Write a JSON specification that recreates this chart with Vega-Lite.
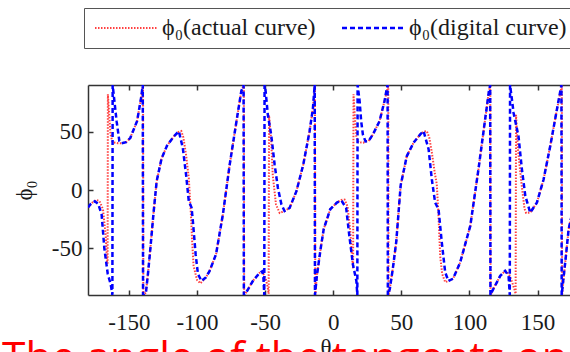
{
  "$schema": "https://vega.github.io/schema/vega-lite/v6.json",
  "width": 482,
  "height": 210,
  "autosize": {"type": "none"},
  "padding": {"left": 88, "top": 85, "right": 0, "bottom": 57},
  "background": "white",
  "config": {
    "font": "Liberation Serif",
    "view": {"stroke": null},
    "axis": {"labelFont": "Liberation Serif", "titleFont": "Liberation Serif"},
    "legend": {
      "symbolType": "M-9,0H53",
      "symbolSize": 4,
      "labelFont": "Liberation Serif",
      "labelFontSize": 24,
      "labelColor": "#1a1a1a",
      "labelOffset": 46,
      "columnPadding": 21,
      "strokeColor": "#555555",
      "fillColor": "#ffffff",
      "padding": 8,
      "labelLimit": 0
    }
  },
  "title": {
    "text": "The angle of the tangents on",
    "orient": "bottom",
    "anchor": "start",
    "frame": "group",
    "font": "Open Sans",
    "fontSize": 42.5,
    "fontWeight": "normal",
    "color": "#ff0000",
    "baseline": "top",
    "dx": -86,
    "dy": -21,
    "offset": 0
  },
  "data": {
    "values": [
      {"curve": "actual", "theta": -180, "phi": -15},
      {"curve": "actual", "theta": -177, "phi": -11},
      {"curve": "actual", "theta": -174, "phi": -8.5},
      {"curve": "actual", "theta": -171.6, "phi": -9.4},
      {"curve": "actual", "theta": -169, "phi": -16.5},
      {"curve": "actual", "theta": -167, "phi": -39},
      {"curve": "actual", "theta": -166, "phi": -62},
      {"curve": "actual", "theta": -165.6, "phi": -63},
      {"curve": "actual", "theta": -165.4, "phi": 82},
      {"curve": "actual", "theta": -164.5, "phi": 66},
      {"curve": "actual", "theta": -163.5, "phi": 48},
      {"curve": "actual", "theta": -162, "phi": 41},
      {"curve": "actual", "theta": -158, "phi": 40},
      {"curve": "actual", "theta": -155.6, "phi": 40},
      {"curve": "actual", "theta": -152, "phi": 41},
      {"curve": "actual", "theta": -149, "phi": 44.5},
      {"curve": "actual", "theta": -144, "phi": 59},
      {"curve": "actual", "theta": -141, "phi": 79},
      {"curve": "actual", "theta": -139.6, "phi": 90},
      {"curve": "actual", "theta": -139.4, "phi": -90},
      {"curve": "actual", "theta": -137.5, "phi": -88},
      {"curve": "actual", "theta": -136, "phi": -72},
      {"curve": "actual", "theta": -134.6, "phi": -55},
      {"curve": "actual", "theta": -132, "phi": -21},
      {"curve": "actual", "theta": -129.6, "phi": 7.5},
      {"curve": "actual", "theta": -126, "phi": 27},
      {"curve": "actual", "theta": -122, "phi": 38},
      {"curve": "actual", "theta": -117, "phi": 46},
      {"curve": "actual", "theta": -114, "phi": 49.5},
      {"curve": "actual", "theta": -111.5, "phi": 50.5},
      {"curve": "actual", "theta": -110, "phi": 45},
      {"curve": "actual", "theta": -108, "phi": 30},
      {"curve": "actual", "theta": -106, "phi": 10},
      {"curve": "actual", "theta": -104.5, "phi": -20},
      {"curve": "actual", "theta": -103.5, "phi": -45},
      {"curve": "actual", "theta": -102.5, "phi": -65},
      {"curve": "actual", "theta": -100, "phi": -77},
      {"curve": "actual", "theta": -97.5, "phi": -80},
      {"curve": "actual", "theta": -93.5, "phi": -75},
      {"curve": "actual", "theta": -90.8, "phi": -69.6},
      {"curve": "actual", "theta": -86, "phi": -55},
      {"curve": "actual", "theta": -81, "phi": -21},
      {"curve": "actual", "theta": -76, "phi": 21.7},
      {"curve": "actual", "theta": -71, "phi": 59},
      {"curve": "actual", "theta": -67.5, "phi": 84.5},
      {"curve": "actual", "theta": -65.6, "phi": 90},
      {"curve": "actual", "theta": -65.4, "phi": -90},
      {"curve": "actual", "theta": -64, "phi": -88},
      {"curve": "actual", "theta": -59, "phi": -78},
      {"curve": "actual", "theta": -54, "phi": -71},
      {"curve": "actual", "theta": -52, "phi": -70},
      {"curve": "actual", "theta": -49.5, "phi": -76},
      {"curve": "actual", "theta": -48, "phi": -84},
      {"curve": "actual", "theta": -47.4, "phi": -89},
      {"curve": "actual", "theta": -47.1, "phi": 64},
      {"curve": "actual", "theta": -45.5, "phi": 42},
      {"curve": "actual", "theta": -44.4, "phi": 13},
      {"curve": "actual", "theta": -42, "phi": -12.5},
      {"curve": "actual", "theta": -39.3, "phi": -19.7},
      {"curve": "actual", "theta": -35.7, "phi": -18},
      {"curve": "actual", "theta": -32, "phi": -15.4},
      {"curve": "actual", "theta": -27, "phi": -1},
      {"curve": "actual", "theta": -22, "phi": 21.7},
      {"curve": "actual", "theta": -17.4, "phi": 50},
      {"curve": "actual", "theta": -14.9, "phi": 70},
      {"curve": "actual", "theta": -13.4, "phi": 90},
      {"curve": "actual", "theta": -13.2, "phi": -90},
      {"curve": "actual", "theta": -12, "phi": -73.6},
      {"curve": "actual", "theta": -9.3, "phi": -50.8},
      {"curve": "actual", "theta": -7, "phi": -33.6},
      {"curve": "actual", "theta": -2.2, "phi": -16.5},
      {"curve": "actual", "theta": 2.7, "phi": -10.8},
      {"curve": "actual", "theta": 6, "phi": -8.5},
      {"curve": "actual", "theta": 8.3, "phi": -8.2},
      {"curve": "actual", "theta": 10.5, "phi": -14},
      {"curve": "actual", "theta": 12.5, "phi": -35},
      {"curve": "actual", "theta": 14, "phi": -60},
      {"curve": "actual", "theta": 14.6, "phi": -67},
      {"curve": "actual", "theta": 14.9, "phi": 82},
      {"curve": "actual", "theta": 15.8, "phi": 64},
      {"curve": "actual", "theta": 17, "phi": 46},
      {"curve": "actual", "theta": 18.5, "phi": 41},
      {"curve": "actual", "theta": 22, "phi": 40.5},
      {"curve": "actual", "theta": 23.7, "phi": 41.7},
      {"curve": "actual", "theta": 26, "phi": 42},
      {"curve": "actual", "theta": 29, "phi": 47.4},
      {"curve": "actual", "theta": 34, "phi": 59},
      {"curve": "actual", "theta": 37.6, "phi": 76},
      {"curve": "actual", "theta": 40.4, "phi": 90},
      {"curve": "actual", "theta": 40.6, "phi": -90},
      {"curve": "actual", "theta": 41.5, "phi": -85},
      {"curve": "actual", "theta": 43.8, "phi": -67},
      {"curve": "actual", "theta": 46.3, "phi": -44},
      {"curve": "actual", "theta": 49.5, "phi": 4},
      {"curve": "actual", "theta": 54, "phi": 29},
      {"curve": "actual", "theta": 59, "phi": 40.6},
      {"curve": "actual", "theta": 63.9, "phi": 47.7},
      {"curve": "actual", "theta": 66.3, "phi": 50},
      {"curve": "actual", "theta": 68.7, "phi": 50.5},
      {"curve": "actual", "theta": 70.5, "phi": 45},
      {"curve": "actual", "theta": 72.4, "phi": 32},
      {"curve": "actual", "theta": 74.5, "phi": 15},
      {"curve": "actual", "theta": 76, "phi": 5},
      {"curve": "actual", "theta": 77.2, "phi": -20},
      {"curve": "actual", "theta": 78.5, "phi": -56.5},
      {"curve": "actual", "theta": 80, "phi": -72},
      {"curve": "actual", "theta": 82.2, "phi": -79},
      {"curve": "actual", "theta": 84.6, "phi": -78},
      {"curve": "actual", "theta": 88, "phi": -76},
      {"curve": "actual", "theta": 93.2, "phi": -62},
      {"curve": "actual", "theta": 100.6, "phi": -30.8},
      {"curve": "actual", "theta": 106.6, "phi": 17.7},
      {"curve": "actual", "theta": 111.5, "phi": 60.5},
      {"curve": "actual", "theta": 114.2, "phi": 84},
      {"curve": "actual", "theta": 115.3, "phi": 90},
      {"curve": "actual", "theta": 115.5, "phi": -90},
      {"curve": "actual", "theta": 117, "phi": -86},
      {"curve": "actual", "theta": 122.6, "phi": -73.6},
      {"curve": "actual", "theta": 126.2, "phi": -69.3},
      {"curve": "actual", "theta": 129, "phi": -72},
      {"curve": "actual", "theta": 131, "phi": -78},
      {"curve": "actual", "theta": 133, "phi": -85},
      {"curve": "actual", "theta": 133.9, "phi": -89},
      {"curve": "actual", "theta": 134.2, "phi": 64.5},
      {"curve": "actual", "theta": 135.5, "phi": 36},
      {"curve": "actual", "theta": 138, "phi": 7.5},
      {"curve": "actual", "theta": 140.4, "phi": -16},
      {"curve": "actual", "theta": 141.6, "phi": -19.7},
      {"curve": "actual", "theta": 144.6, "phi": -19.4},
      {"curve": "actual", "theta": 149.5, "phi": -10.8},
      {"curve": "actual", "theta": 154.4, "phi": 9},
      {"curve": "actual", "theta": 159.3, "phi": 37.7},
      {"curve": "actual", "theta": 164.2, "phi": 69},
      {"curve": "actual", "theta": 167.8, "phi": 90},
      {"curve": "actual", "theta": 168, "phi": -90},
      {"curve": "actual", "theta": 168.8, "phi": -80},
      {"curve": "actual", "theta": 170.3, "phi": -62},
      {"curve": "actual", "theta": 172.8, "phi": -33.6},
      {"curve": "actual", "theta": 175, "phi": -22},
      {"curve": "actual", "theta": 177.8, "phi": -16.5},
      {"curve": "actual", "theta": 180, "phi": -14},

      {"curve": "digital", "theta": -180, "phi": -15},
      {"curve": "digital", "theta": -178, "phi": -12},
      {"curve": "digital", "theta": -175, "phi": -9.7},
      {"curve": "digital", "theta": -172.5, "phi": -12},
      {"curve": "digital", "theta": -170, "phi": -21},
      {"curve": "digital", "theta": -168, "phi": -50},
      {"curve": "digital", "theta": -165.5, "phi": -72},
      {"curve": "digital", "theta": -163.5, "phi": -80},
      {"curve": "digital", "theta": -162.3, "phi": -88},
      {"curve": "digital", "theta": -162.1, "phi": -90},
      {"curve": "digital", "theta": -161.9, "phi": 90},
      {"curve": "digital", "theta": -160.5, "phi": 75},
      {"curve": "digital", "theta": -159, "phi": 59},
      {"curve": "digital", "theta": -157, "phi": 42},
      {"curve": "digital", "theta": -155.6, "phi": 40},
      {"curve": "digital", "theta": -152, "phi": 41},
      {"curve": "digital", "theta": -149, "phi": 44.5},
      {"curve": "digital", "theta": -144, "phi": 59},
      {"curve": "digital", "theta": -141, "phi": 79},
      {"curve": "digital", "theta": -139.8, "phi": 90},
      {"curve": "digital", "theta": -139.6, "phi": -90},
      {"curve": "digital", "theta": -137.5, "phi": -88},
      {"curve": "digital", "theta": -136, "phi": -72},
      {"curve": "digital", "theta": -134.6, "phi": -55},
      {"curve": "digital", "theta": -132, "phi": -21},
      {"curve": "digital", "theta": -129.6, "phi": 7.5},
      {"curve": "digital", "theta": -126, "phi": 27},
      {"curve": "digital", "theta": -122, "phi": 38},
      {"curve": "digital", "theta": -117, "phi": 46},
      {"curve": "digital", "theta": -113.3, "phi": 50.3},
      {"curve": "digital", "theta": -110.4, "phi": 36},
      {"curve": "digital", "theta": -108, "phi": 13},
      {"curve": "digital", "theta": -106, "phi": -9.7},
      {"curve": "digital", "theta": -104, "phi": -15},
      {"curve": "digital", "theta": -103, "phi": -27},
      {"curve": "digital", "theta": -101, "phi": -55},
      {"curve": "digital", "theta": -99.3, "phi": -72},
      {"curve": "digital", "theta": -96.7, "phi": -78},
      {"curve": "digital", "theta": -93.5, "phi": -75},
      {"curve": "digital", "theta": -90.8, "phi": -69.6},
      {"curve": "digital", "theta": -86, "phi": -55},
      {"curve": "digital", "theta": -81, "phi": -21},
      {"curve": "digital", "theta": -76, "phi": 21.7},
      {"curve": "digital", "theta": -71, "phi": 59},
      {"curve": "digital", "theta": -67.5, "phi": 84.5},
      {"curve": "digital", "theta": -65.8, "phi": 90},
      {"curve": "digital", "theta": -65.6, "phi": -90},
      {"curve": "digital", "theta": -64, "phi": -88},
      {"curve": "digital", "theta": -59, "phi": -78},
      {"curve": "digital", "theta": -54, "phi": -71},
      {"curve": "digital", "theta": -52, "phi": -69.6},
      {"curve": "digital", "theta": -51.2, "phi": -76},
      {"curve": "digital", "theta": -50.6, "phi": -90},
      {"curve": "digital", "theta": -50.4, "phi": 90},
      {"curve": "digital", "theta": -49.6, "phi": 84.5},
      {"curve": "digital", "theta": -48, "phi": 64.5},
      {"curve": "digital", "theta": -45.5, "phi": 47},
      {"curve": "digital", "theta": -43, "phi": 21.7},
      {"curve": "digital", "theta": -40.6, "phi": 1.7},
      {"curve": "digital", "theta": -38, "phi": -12.5},
      {"curve": "digital", "theta": -35.7, "phi": -18},
      {"curve": "digital", "theta": -32, "phi": -15.4},
      {"curve": "digital", "theta": -27, "phi": -1},
      {"curve": "digital", "theta": -22, "phi": 21.7},
      {"curve": "digital", "theta": -17.4, "phi": 50},
      {"curve": "digital", "theta": -14.9, "phi": 70},
      {"curve": "digital", "theta": -13.6, "phi": 90},
      {"curve": "digital", "theta": -13.4, "phi": -90},
      {"curve": "digital", "theta": -12, "phi": -73.6},
      {"curve": "digital", "theta": -9.3, "phi": -50.8},
      {"curve": "digital", "theta": -7, "phi": -33.6},
      {"curve": "digital", "theta": -2.2, "phi": -16.5},
      {"curve": "digital", "theta": 2.7, "phi": -10.8},
      {"curve": "digital", "theta": 6, "phi": -9},
      {"curve": "digital", "theta": 9.5, "phi": -15.4},
      {"curve": "digital", "theta": 12, "phi": -41},
      {"curve": "digital", "theta": 14.5, "phi": -64},
      {"curve": "digital", "theta": 17, "phi": -78},
      {"curve": "digital", "theta": 17.7, "phi": -90},
      {"curve": "digital", "theta": 17.9, "phi": 90},
      {"curve": "digital", "theta": 19.4, "phi": 76},
      {"curve": "digital", "theta": 20.5, "phi": 59},
      {"curve": "digital", "theta": 21.8, "phi": 47.4},
      {"curve": "digital", "theta": 23.7, "phi": 41.7},
      {"curve": "digital", "theta": 26, "phi": 42},
      {"curve": "digital", "theta": 29, "phi": 47.4},
      {"curve": "digital", "theta": 34, "phi": 59},
      {"curve": "digital", "theta": 37.6, "phi": 76},
      {"curve": "digital", "theta": 39.4, "phi": 87.3},
      {"curve": "digital", "theta": 39.9, "phi": 90},
      {"curve": "digital", "theta": 40.1, "phi": -90},
      {"curve": "digital", "theta": 41.5, "phi": -85},
      {"curve": "digital", "theta": 43.8, "phi": -67},
      {"curve": "digital", "theta": 46.3, "phi": -44},
      {"curve": "digital", "theta": 49.5, "phi": 4},
      {"curve": "digital", "theta": 54, "phi": 29},
      {"curve": "digital", "theta": 59, "phi": 40.6},
      {"curve": "digital", "theta": 63.9, "phi": 47.7},
      {"curve": "digital", "theta": 66.3, "phi": 50.5},
      {"curve": "digital", "theta": 70, "phi": 35},
      {"curve": "digital", "theta": 72.4, "phi": 9},
      {"curve": "digital", "theta": 74.8, "phi": -10.8},
      {"curve": "digital", "theta": 77.3, "phi": -16.5},
      {"curve": "digital", "theta": 79.7, "phi": -45},
      {"curve": "digital", "theta": 82.2, "phi": -70.7},
      {"curve": "digital", "theta": 84.6, "phi": -78},
      {"curve": "digital", "theta": 88, "phi": -76},
      {"curve": "digital", "theta": 93.2, "phi": -62},
      {"curve": "digital", "theta": 100.6, "phi": -30.8},
      {"curve": "digital", "theta": 106.6, "phi": 17.7},
      {"curve": "digital", "theta": 111.5, "phi": 60.5},
      {"curve": "digital", "theta": 114.2, "phi": 84},
      {"curve": "digital", "theta": 115.2, "phi": 90},
      {"curve": "digital", "theta": 115.4, "phi": -90},
      {"curve": "digital", "theta": 117, "phi": -86},
      {"curve": "digital", "theta": 122.6, "phi": -73.6},
      {"curve": "digital", "theta": 126.2, "phi": -69.3},
      {"curve": "digital", "theta": 128.7, "phi": -73.6},
      {"curve": "digital", "theta": 129.6, "phi": -90},
      {"curve": "digital", "theta": 129.8, "phi": 90},
      {"curve": "digital", "theta": 130.7, "phi": 82},
      {"curve": "digital", "theta": 132.4, "phi": 66},
      {"curve": "digital", "theta": 136, "phi": 46},
      {"curve": "digital", "theta": 138.5, "phi": 17.7},
      {"curve": "digital", "theta": 141, "phi": -5},
      {"curve": "digital", "theta": 144.6, "phi": -19.4},
      {"curve": "digital", "theta": 149.5, "phi": -10.8},
      {"curve": "digital", "theta": 154.4, "phi": 9},
      {"curve": "digital", "theta": 159.3, "phi": 37.7},
      {"curve": "digital", "theta": 164.2, "phi": 69},
      {"curve": "digital", "theta": 167.5, "phi": 90},
      {"curve": "digital", "theta": 167.7, "phi": -90},
      {"curve": "digital", "theta": 168.6, "phi": -80},
      {"curve": "digital", "theta": 170.3, "phi": -62},
      {"curve": "digital", "theta": 172.8, "phi": -33.6},
      {"curve": "digital", "theta": 175, "phi": -22},
      {"curve": "digital", "theta": 177.8, "phi": -16.5},
      {"curve": "digital", "theta": 180, "phi": -14}
    ]
  },
  "layer": [
    {
      "mark": {"type": "line", "clip": true, "strokeCap": "butt"},
      "encoding": {
        "x": {
          "field": "theta", "type": "quantitative",
          "scale": {"domain": [-180, 173.8], "nice": false, "zero": false},
          "axis": {
            "orient": "bottom", "values": [-150, -100, -50, 0, 50, 100, 150],
            "tickSize": -5, "tickWidth": 1.5, "tickColor": "#333333",
            "domainColor": "#333333", "domainWidth": 1.5, "grid": false,
            "labelPadding": 21, "labelFont": "Liberation Serif", "labelFontSize": 23,
            "labelColor": "#1a1a1a", "labelFlush": false, "labelOverlap": false, "labelBound": false,
            "labelExpr": "replace(datum.label, '−', '-')",
            "title": "θₛ", "titleFont": "Liberation Serif", "titleFontSize": 23,
            "titleFontWeight": "normal", "titleColor": "#1a1a1a", "titlePadding": 2
          }
        },
        "y": {
          "field": "phi", "type": "quantitative",
          "scale": {"domain": [-90, 90], "nice": false, "zero": false},
          "axis": {
            "orient": "left", "values": [-50, 0, 50],
            "tickSize": -5, "tickWidth": 1.5, "tickColor": "#333333",
            "domainColor": "#333333", "domainWidth": 1.5, "grid": false,
            "labelPadding": 11, "labelFont": "Liberation Serif", "labelFontSize": 23,
            "labelColor": "#1a1a1a", "labelFlush": false, "labelOverlap": false,
            "labelExpr": "replace(datum.label, '−', '-')",
            "title": "ϕ₀", "titleFont": "Liberation Serif", "titleFontSize": 23,
            "titleFontWeight": "normal", "titleColor": "#1a1a1a", "titlePadding": 15
          }
        },
        "color": {
          "field": "curve", "type": "nominal",
          "scale": {"domain": ["actual", "digital"], "range": ["#ff4040", "#0000ff"]},
          "legend": {
            "title": null, "orient": "none", "legendX": -4, "legendY": -77,
            "direction": "horizontal", "columns": 2,
            "labelExpr": "'ϕ₀(' + datum.label + ' curve)'"
          }
        },
        "strokeDash": {
          "field": "curve", "type": "nominal",
          "scale": {"domain": ["actual", "digital"], "range": [[1.5, 1.5], [5, 3]]},
          "legend": {
            "title": null, "orient": "none", "legendX": -4, "legendY": -77,
            "direction": "horizontal", "columns": 2,
            "labelExpr": "'ϕ₀(' + datum.label + ' curve)'"
          }
        },
        "strokeWidth": {
          "field": "curve", "type": "nominal",
          "scale": {"domain": ["actual", "digital"], "range": [2, 2.5]},
          "legend": {
            "title": null, "orient": "none", "legendX": -4, "legendY": -77,
            "direction": "horizontal", "columns": 2,
            "labelExpr": "'ϕ₀(' + datum.label + ' curve)'"
          }
        }
      }
    },
    {
      "mark": {"type": "point", "opacity": 0},
      "encoding": {
        "x": {
          "field": "theta", "type": "quantitative",
          "axis": {
            "orient": "top", "values": [-150, -100, -50, 0, 50, 100, 150],
            "tickSize": -5, "tickWidth": 1.5, "tickColor": "#333333",
            "domainColor": "#333333", "domainWidth": 1.5, "grid": false,
            "labels": false, "title": null
          }
        },
        "y": {"field": "phi", "type": "quantitative", "axis": null}
      }
    }
  ],
  "resolve": {"axis": {"x": "independent", "y": "independent"}}
}
